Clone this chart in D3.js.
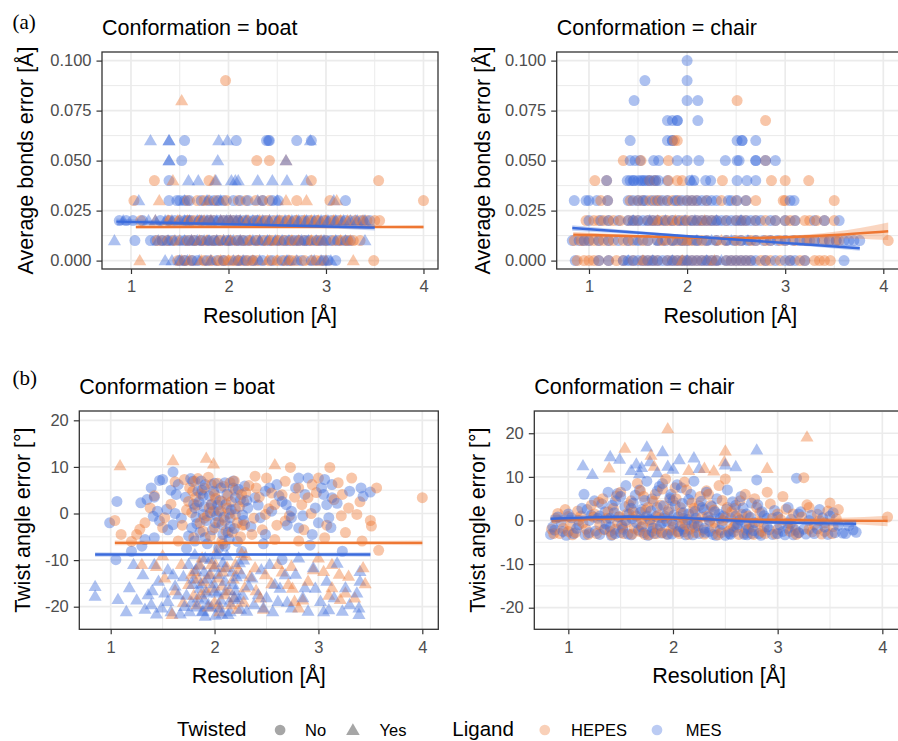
<!DOCTYPE html>
<html>
<head>
<meta charset="utf-8">
<script src="https://cdn.jsdelivr.net/npm/d3@7"></script>
<style>body{margin:0;background:#fff}</style>
</head>
<body>
<svg id="chart" width="898" height="741"></svg>
<script>
// ---- data: bonds error (rounded to 0.01), rows of [level, [resolution...]] ----
const bondsBoatMesNo = [
  [0.06, [1.55, 2.08, 2.39, 2.41, 2.42, 2.7, 2.85]],
  [0.05, [1.52]],
  [0.04, [1.39]],
  [0.03, [1.39, 1.47, 1.5, 1.6, 1.72, 1.85, 1.9, 2.12, 2.2, 2.51, 3.2, 1.55, 1.8, 1.95, 2.05, 2.35, 2.45]],
  [0.02, [0.88, 0.95, 1.02, 1.3, 1.45, 1.55, 1.62, 1.7, 1.8, 1.9, 1.95, 2.05, 2.15, 2.2, 2.3, 2.45, 2.6, 2.75, 2.9, 3.05, 3.2, 3.3, 3.45]],
  [0.02, [1.12, 1.38, 1.58, 1.75, 1.85, 2.0, 2.1, 2.25, 2.38, 2.52, 2.68, 2.82, 2.98, 3.12, 3.38]],
  [0.01, [1.04, 1.2, 1.32, 1.42, 1.5, 1.6, 1.72, 1.85, 1.98, 2.1, 2.2, 2.35, 2.5, 2.62, 2.72, 2.82, 2.95, 3.05, 3.2]],
  [0.01, [1.25, 1.37, 1.55, 1.65, 1.8, 1.9, 2.02, 2.15, 2.28, 2.42, 2.57, 2.68, 2.78, 2.9, 3.0, 3.12, 3.25]],
  [0.00, [1.5, 1.63, 1.78, 1.95, 2.18, 2.45, 2.55, 2.75, 3.02, 3.1, 1.55, 1.68, 1.88, 2.1, 2.25, 2.35, 2.62, 2.85, 2.98]]
];
const bondsBoatMesYes = [
  [0.06, [1.2, 1.39, 1.39, 1.9, 1.99, 2.84]],
  [0.05, [1.39, 1.39, 1.89, 2.59]],
  [0.04, [1.59, 1.69, 1.87, 2.03, 2.07, 2.1, 2.3, 2.45, 2.6, 2.8]],
  [0.03, [1.08, 1.55, 1.78, 1.92, 2.3, 2.5, 3.08]],
  [0.02, [0.92, 1.18, 1.35, 1.42, 1.5, 1.6, 1.68, 1.78, 1.88, 1.98, 2.08, 2.18, 2.25, 2.35, 2.5, 2.65, 2.8, 2.95, 3.1, 3.25, 3.4]],
  [0.02, [1.25, 1.55, 1.72, 1.82, 1.92, 2.02, 2.12, 2.3, 2.42, 2.58, 2.72, 2.88, 3.02, 3.18, 3.32]],
  [0.01, [0.83, 1.28, 1.45, 1.55, 1.68, 1.8, 1.95, 2.05, 2.25, 2.4, 2.55, 2.75, 2.9, 3.1, 3.4]],
  [0.01, [1.38, 1.62, 1.75, 1.88, 2.0, 2.12, 2.32, 2.48, 2.62, 2.82, 2.98, 3.2]],
  [0.00, [1.35, 1.42, 1.58, 2.05, 2.6, 2.88, 3.05, 1.5, 1.7, 1.82, 2.15, 2.32, 2.7, 2.95]]
];
const bondsBoatHepesNo = [
  [0.09, [1.97]],
  [0.05, [2.29, 2.42]],
  [0.04, [1.24, 1.8, 2.85, 3.54]],
  [0.03, [1.03, 1.58, 1.68, 1.98, 2.1, 2.42, 2.7, 3.04, 4.0, 1.75, 1.88, 2.18, 2.28, 2.35]],
  [0.02, [1.1, 1.4, 1.65, 1.85, 2.0, 2.1, 2.28, 2.4, 2.55, 2.7, 2.85, 3.0, 3.15, 3.35, 3.55]],
  [0.02, [1.5, 1.6, 1.72, 1.8, 1.95, 2.05, 2.18, 2.35, 2.48, 2.62, 2.78, 2.92, 3.08, 3.25, 3.42, 3.5]],
  [0.01, [1.27, 1.38, 1.65, 1.78, 1.92, 2.15, 2.3, 2.45, 2.58, 2.78, 3.0, 3.15, 3.28]],
  [0.01, [1.32, 1.45, 1.58, 1.72, 1.85, 2.0, 2.08, 2.22, 2.38, 2.52, 2.65, 2.72, 2.85, 2.92, 3.08, 3.22, 3.35]],
  [0.00, [1.48, 1.55, 1.82, 1.9, 2.0, 2.1, 2.2, 2.3, 2.5, 2.7, 2.95, 3.49, 1.62, 1.75, 1.95, 2.05, 2.15, 2.25, 2.42, 2.58, 2.65, 2.78, 2.9]]
];
const bondsBoatHepesYes = [
  [0.08, [1.52]],
  [0.05, [2.59]],
  [0.04, [1.43, 1.86]],
  [0.03, [1.29, 1.8, 2.59, 2.8, 3.11]],
  [0.02, [1.25, 1.48, 1.75, 1.92, 2.12, 2.32, 2.52, 2.62, 2.78, 2.92, 3.08, 3.22, 3.38]],
  [0.02, [1.38, 1.58, 1.7, 1.82, 2.02, 2.2, 2.42, 2.7, 2.85, 3.0, 3.15, 3.3]],
  [0.01, [1.5, 1.7, 1.88, 2.02, 2.22, 2.42, 2.65, 2.85, 3.25, 1.62, 1.78, 1.95, 2.12, 2.32, 2.5, 2.72, 2.95, 3.15]],
  [0.00, [1.09, 1.6, 1.72, 2.0, 2.25, 2.4, 2.85, 3.28, 1.52, 1.82, 1.92, 2.1, 2.5, 2.62, 3.0]]
];

const bondsChairMesNo = [
  [0.10, [2.0]],
  [0.09, [1.57, 2.0]],
  [0.08, [1.46, 2.0, 2.11]],
  [0.07, [1.8, 1.85, 1.9, 1.9, 2.11]],
  [0.06, [1.42, 1.8, 1.85, 1.85, 2.51, 2.56, 2.56, 2.7]],
  [0.05, [1.42, 1.47, 1.52, 1.66, 1.71, 1.9, 2.0, 2.12, 2.39, 2.51, 2.53, 2.7, 2.7, 2.8, 2.9]],
  [0.04, [1.18, 1.39, 1.42, 1.46, 1.5, 1.53, 1.57, 1.62, 1.66, 1.71, 1.8, 2.03, 2.07, 2.19, 2.24, 2.51, 2.61, 2.7, 1.45, 1.55, 1.6, 1.68]],
  [0.03, [0.85, 0.97, 1.0, 1.08, 1.19, 1.4, 1.45, 1.5, 1.58, 1.7, 1.75, 1.88, 1.95, 2.05, 2.2, 2.3, 2.42, 2.51, 2.6, 3.05, 3.09]],
  [0.03, [1.55, 1.65, 1.8, 1.9, 2.0, 2.1, 2.15, 2.25, 2.45]],
  [0.02, [1.2, 1.4, 1.45, 1.55, 1.6, 1.7, 1.85, 1.98, 2.05, 2.15, 2.25, 2.35, 2.45, 2.55, 2.65, 2.75, 2.9, 3.3]],
  [0.02, [1.0, 1.12, 1.3, 1.5, 1.65, 1.78, 1.92, 2.1, 2.2, 2.3, 2.4, 2.5, 2.6, 2.7, 2.85, 3.0, 3.1, 3.4, 3.55]],
  [0.01, [0.83, 0.9, 0.95, 1.1, 1.3, 1.5, 1.7, 1.85, 2.0, 2.2, 2.4, 2.55, 2.7, 2.85, 3.0, 3.15, 3.3, 3.45, 3.6, 3.7, 3.76]],
  [0.01, [1.0, 1.2, 1.4, 1.6, 1.78, 1.95, 2.1, 2.3, 2.48, 2.62, 2.78, 2.92, 3.08, 3.22, 3.38, 3.52, 3.65]],
  [0.00, [0.86, 1.1, 1.35, 1.4, 1.5, 1.6, 1.7, 1.75, 1.95, 2.0, 2.15, 2.3, 2.45, 2.55, 2.6, 2.7, 2.8, 3.0, 3.1, 3.6]],
  [0.00, [1.2, 1.45, 1.55, 1.65, 1.8, 1.85, 1.9, 2.05, 2.1, 2.2, 2.25, 2.4, 2.5, 2.65, 2.9, 3.05, 3.2]]
];
const bondsChairMesYes = [
  [0.04, [2.05]],
  [0.02, [1.45, 1.62, 1.78, 1.98, 2.08, 2.3, 2.55]],
  [0.01, [1.5, 1.72, 1.9, 2.1, 2.25, 2.45, 2.62]],
  [0.00, [1.4, 1.65, 1.85, 2.0, 2.2, 2.35]]
];
const bondsChairHepesNo = [
  [0.08, [2.51]],
  [0.07, [2.8]],
  [0.06, [1.87, 1.9]],
  [0.05, [1.35, 1.53, 1.81, 2.8]],
  [0.04, [1.06, 1.18, 1.62, 1.68, 1.81, 1.9, 1.95, 2.36, 2.86, 3.0, 3.24]],
  [0.03, [1.12, 1.19, 1.42, 1.55, 1.62, 1.8, 1.92, 2.0, 2.1, 2.6, 2.7, 2.98, 3.0, 3.5, 1.5, 1.68, 1.72, 1.85, 2.05, 2.2, 2.35, 2.5]],
  [0.02, [0.97, 1.1, 1.15, 1.25, 1.32, 1.5, 1.65, 1.75, 1.8, 1.9, 1.95, 2.1, 2.2, 2.3, 2.5, 2.6, 2.8, 3.0, 3.05, 3.2, 3.32, 3.4, 3.5]],
  [0.02, [1.05, 1.2, 1.4, 1.45, 1.6, 1.7, 1.85, 2.0, 2.05, 2.15, 2.25, 2.4, 2.55, 2.7, 2.9, 3.1, 3.25]],
  [0.01, [0.85, 0.92, 1.0, 1.05, 1.15, 1.2, 1.35, 1.45, 1.6, 1.75, 1.9, 2.05, 2.1, 2.3, 2.5, 2.65, 2.8, 2.95, 3.1, 3.25, 3.4, 3.52, 3.55, 4.05]],
  [0.01, [0.95, 1.1, 1.25, 1.4, 1.55, 1.7, 1.85, 1.95, 2.0, 2.15, 2.2, 2.4, 2.55, 2.7, 2.85, 3.0, 3.2, 3.3, 3.45]],
  [0.00, [0.95, 1.0, 1.05, 1.2, 1.28, 1.45, 1.65, 1.8, 1.9, 2.05, 2.1, 2.25, 2.4, 2.5, 2.65, 2.85, 2.95, 3.2, 3.3, 3.4, 3.46]],
  [0.00, [0.88, 1.1, 1.35, 1.55, 1.6, 1.7, 1.85, 1.95, 2.0, 2.15, 2.2, 2.3, 2.45, 2.55, 2.6, 2.75, 2.8, 3.05, 3.15, 3.35]]
];
const bondsChairHepesYes = [
  [0.02, [1.7, 1.88, 2.18]],
  [0.01, [1.8, 2.0, 2.35]],
  [0.00, [1.55, 1.95, 2.28]]
];

// ---- data: twist angle error, [resolution, error] ----
const twistBoatMesNo = [
  [0.99,-2.0],[1.06,2.6],[1.29,2.3],[1.39,5.5],[1.47,7.1],[1.5,7.3],[1.6,8.9],[1.42,3.5],[1.41,-0.6],[1.47,-1.6],
  [1.6,-2.4],[1.54,0.9],[1.63,4.1],[1.65,6.2],[1.79,6.9],[1.84,4.8],[1.91,6.2],[1.81,1.2],[1.89,-0.2],[1.78,-3.1],
  [1.81,-5.9],[1.97,1.9],[2.04,0.5],[2.07,-2.4],[2.15,-0.9],[2.18,5.5],[2.1,6.6],[2.29,5.9],[2.32,1.2],[2.39,3.4],
  [2.44,-0.9],[2.49,4.8],[2.53,5.5],[2.6,6.2],[2.65,2.6],[2.69,1.9],[2.74,-0.9],[2.81,7.6],[2.9,7.6],[2.87,4.1],
  [2.74,0.5],[2.81,-3.1],[2.97,1.2],[3.0,-2.0],[3.06,7.3],[3.05,4.1],[3.08,1.9],[3.1,-0.9],[3.13,6.2],[3.13,3.4],
  [3.41,5.5],[3.5,4.6],[3.43,3.7],[1.05,-9.9],[1.2,-8.1],[1.33,-5.6],[1.42,-5.2],[2.26,-8.1],[2.65,-9.9],[3.23,-8.1],
  [1.91,-5.2],[2.04,-7.4],[2.13,-4.1],[2.49,-4.5],[2.94,-4.5],[2.2,3.4],
  [1.85,2.5],[1.88,5.0],[1.92,-1.5],[1.95,3.8],[1.98,-3.5],[2.0,6.5],[2.02,-0.5],[2.05,2.8],[2.08,-4.5],[2.12,4.2],
  [2.15,-2.8],[2.2,1.0],[2.22,-6.0],[2.25,3.0],[1.82,-0.8],[1.86,-4.0],[1.9,1.5],[2.1,-7.0],[2.18,7.0],[2.28,-1.5],
  [1.35,3.0],[1.45,0.5],[1.55,-3.5],[1.58,5.0],[1.68,-1.0],[1.72,3.5],[1.75,-4.8],[1.77,7.5],[1.8,2.0],[1.83,-2.2],
  [1.87,7.0],[1.89,3.8],[1.93,-6.5],[1.96,0.2],[1.99,4.8],[2.01,-2.0],[2.03,1.8],[2.06,5.5],[2.09,-0.8],[2.11,2.0],
  [2.14,-5.5],[2.16,0.8],[2.19,-3.2],[2.23,5.2],[2.27,-0.3],[2.31,2.8],[2.35,-2.8],[2.42,1.8],[2.47,-6.5],[2.55,0.5],
  [2.62,3.8],[2.7,-2.5],[2.78,5.5],[2.85,-0.5],[2.92,-6.8],[3.03,5.5],[3.12,-3.0],[3.18,2.2],[3.3,4.8],[1.3,-7.0],
  [1.62,0.0],[1.73,-7.5]
];
const twistBoatMesYes = [
  [0.85,-15.6],[0.85,-17.7],[1.07,-18.4],[1.18,-15.9],[1.22,-10.9],[1.31,-13.1],[1.36,-17.4],[1.39,-19.5],[1.46,-14.5],[1.49,-20.2],
  [1.55,-18.8],[1.6,-13.1],[1.65,-17.4],[1.71,-19.9],[1.75,-10.9],[1.79,-15.2],[1.84,-18.1],[1.89,-20.9],[1.91,-9.5],[1.95,-13.1],
  [2.0,-16.6],[2.05,-20.2],[2.1,-11.6],[2.13,-21.6],[2.18,-15.2],[2.23,-18.4],[2.28,-9.9],[2.31,-20.9],[2.36,-13.8],[2.42,-17.4],
  [2.47,-20.2],[2.53,-10.9],[2.58,-15.2],[2.61,-18.8],[2.68,-13.1],[2.74,-20.2],[2.81,-9.5],[2.87,-15.9],[2.9,-20.9],[2.95,-11.6],
  [3.02,-18.8],[3.08,-14.5],[3.1,-20.6],[3.18,-10.6],[3.23,-20.9],[3.26,-15.9],[3.4,-12.4],[3.4,-14.5],[3.39,-20.2],[3.39,-21.6],
  [1.91,-22.0],[1.42,-10.9],[1.81,-8.8],[2.02,-8.8],
  [1.82,-12.0],[1.86,-16.0],[1.9,-18.5],[1.93,-14.0],[1.97,-20.0],[2.0,-11.5],[2.03,-17.0],[2.07,-21.5],[2.1,-14.5],[2.14,-19.0],
  [2.17,-12.5],[2.2,-16.5],[2.25,-20.5],[1.78,-19.0],[1.88,-21.0],[2.12,-9.0],[2.26,-13.0],
  [1.25,-18.5],[1.33,-20.5],[1.4,-16.5],[1.44,-21.5],[1.52,-17.0],[1.58,-21.0],[1.62,-15.5],[1.67,-21.5],[1.7,-13.5],[1.73,-17.5],
  [1.76,-21.0],[1.8,-14.0],[1.83,-20.0],[1.85,-11.0],[1.87,-15.0],[1.9,-12.5],[1.92,-17.0],[1.94,-19.5],[1.96,-9.8],[1.99,-15.0],
  [2.01,-21.8],[2.04,-13.0],[2.06,-18.5],[2.08,-10.5],[2.11,-16.5],[2.15,-21.0],[2.19,-18.0],[2.21,-13.5],[2.24,-10.5],[2.27,-17.5],
  [2.33,-15.5],[2.38,-19.5],[2.45,-12.0],[2.5,-18.0],[2.56,-21.0],[2.63,-16.0],[2.7,-19.0],[2.78,-13.0],[2.85,-18.0],[2.97,-16.0],
  [3.05,-21.0],[3.15,-18.0],[3.3,-19.5],[3.37,-17.0],[1.15,-21.0],[1.55,-12.0]
];
const twistBoatHepesNo = [
  [1.04,-1.5],[1.1,-4.5],[1.25,-4.5],[1.28,-3.4],[1.38,1.2],[1.71,7.3],[1.81,6.9],[1.79,4.8],[1.75,2.6],[1.97,6.2],
  [2.0,4.1],[1.95,1.2],[2.07,2.6],[2.15,6.6],[2.12,1.2],[2.2,-0.2],[2.29,-2.4],[2.39,8.0],[2.5,7.6],[2.4,5.5],
  [2.55,4.4],[2.58,1.9],[2.68,6.9],[2.73,9.9],[2.81,5.5],[2.84,1.9],[2.94,6.2],[2.9,3.4],[3.0,7.6],[3.11,9.9],
  [3.19,6.6],[3.23,4.1],[3.32,7.6],[3.29,1.2],[3.37,-0.2],[3.56,5.5],[4.0,3.4],[3.5,-1.5],[3.51,-2.7],[3.42,-5.9],
  [3.58,-7.9],[3.26,-4.1],[3.06,-5.2],[2.81,-5.9],[2.58,-5.6],[2.36,-4.5],[2.07,-5.9],[1.89,-3.8],[1.65,-5.9],[1.52,-0.9],
  [2.49,-0.2],[2.68,-1.6],[2.26,4.1],
  [1.82,3.5],[1.86,-2.0],[1.9,5.5],[1.93,-0.5],[1.97,2.0],[2.0,-3.0],[2.03,6.5],[2.06,0.5],[2.1,-1.5],[2.13,3.8],
  [2.17,-4.0],[2.2,5.0],[2.24,1.5],[2.27,-2.5],[1.78,0.2],[1.84,7.5],[2.08,-6.5],[2.3,4.5],
  [1.42,3.8],[1.5,-3.0],[1.58,2.0],[1.62,6.8],[1.69,-2.5],[1.73,0.8],[1.76,5.5],[1.8,-5.2],[1.83,1.8],[1.87,4.2],
  [1.9,-1.0],[1.94,7.8],[1.96,-4.8],[1.99,0.5],[2.01,3.2],[2.04,-1.8],[2.09,5.8],[2.11,-3.8],[2.14,0.0],[2.16,2.5],
  [2.19,7.0],[2.22,-2.0],[2.25,-5.0],[2.28,2.5],[2.33,6.0],[2.38,-1.0],[2.43,3.5],[2.46,-3.5],[2.52,1.0],[2.6,-2.5],
  [2.65,4.0],[2.72,-0.5],[2.77,3.5],[2.86,-3.5],[2.93,0.0],[2.98,4.5],[3.08,-2.5],[3.15,3.0],[3.22,-0.5],[3.4,2.5],
  [1.2,-6.0],[1.33,-2.0]
];
const twistBoatHepesYes = [
  [1.09,10.3],[1.6,11.4],[1.92,11.9],[1.99,10.7],[2.58,10.5],[1.3,-10.9],[1.44,-11.3],[1.52,-13.8],[1.68,-10.9],[1.75,-15.2],
  [1.81,-12.4],[1.87,-17.4],[1.97,-10.9],[2.04,-13.8],[2.1,-17.4],[2.16,-19.5],[2.2,-10.9],[2.29,-15.9],[2.39,-11.6],[2.44,-18.1],
  [2.49,-13.1],[2.61,-10.9],[2.71,-15.2],[2.77,-18.8],[2.81,-20.2],[2.9,-14.5],[3.0,-9.5],[3.05,-12.4],[3.13,-15.9],[3.21,-18.4],
  [3.26,-17.0],[3.35,-18.1],[3.43,-11.6],[3.29,-13.4],[1.59,-21.6],[2.04,-19.5],[3.13,-10.9],[2.74,-11.3],
  [1.84,-14.0],[1.88,-9.5],[1.92,-16.5],[1.96,-13.0],[2.0,-19.0],[2.02,-8.0],[2.07,-15.5],[2.12,-11.5],[2.18,-14.0],[2.22,-20.5],
  [2.26,-8.5],[1.8,-17.5],
  [1.62,-16.5],[1.7,-19.0],[1.78,-13.0],[1.83,-19.5],[1.86,-11.0],[1.9,-14.5],[1.94,-20.0],[1.98,-16.0],[2.01,-11.0],[2.05,-21.0],
  [2.08,-12.5],[2.14,-16.5],[2.19,-18.0],[2.23,-12.0],[2.28,-19.0],[2.34,-13.5],[2.4,-16.5],[2.47,-20.5],[2.55,-15.0],[2.65,-12.5],
  [2.75,-16.0],[2.85,-18.5],[2.95,-12.0],[3.1,-17.5],[3.2,-13.0],[3.45,-15.0],[1.5,-9.0],[2.3,-9.0]
];

const twistChairMesNo = [
  [0.83,-3.2],[0.85,-1.5],[0.9,0.8],[0.95,-2.5],[1.0,1.5],[1.05,-3.0],[1.1,-1.0],[1.15,6.0],[1.18,2.5],[1.2,-2.8],
  [1.25,4.5],[1.28,0.5],[1.3,-3.2],[1.35,2.0],[1.38,6.5],[1.4,-1.5],[1.42,3.5],[1.45,-3.0],[1.48,0.8],[1.5,5.5],
  [1.52,-2.0],[1.55,8.0],[1.58,1.5],[1.6,-3.3],[1.62,4.0],[1.65,-0.5],[1.68,7.0],[1.7,2.5],[1.72,-2.8],[1.75,9.0],
  [1.78,0.2],[1.8,5.0],[1.82,-3.0],[1.85,3.0],[1.88,-1.2],[1.9,8.5],[1.92,1.0],[1.95,-3.2],[1.98,6.0],[2.0,-0.8],
  [2.02,3.5],[2.05,-2.5],[2.08,7.5],[2.1,1.8],[2.12,-3.3],[2.15,4.8],[2.18,-1.0],[2.2,9.0],[2.22,0.5],[2.25,-3.0],
  [2.28,3.0],[2.3,-1.8],[2.32,6.5],[2.35,0.0],[2.38,-3.2],[2.4,2.0],[2.42,5.0],[2.45,-2.2],[2.48,1.0],[2.5,-3.4],
  [2.52,7.0],[2.55,0.5],[2.58,-2.6],[2.6,3.5],[2.62,-1.0],[2.65,5.5],[2.68,-3.2],[2.7,1.5],[2.72,-2.0],[2.75,4.0],
  [2.78,-0.5],[2.8,9.3],[2.82,-3.0],[2.85,2.0],[2.9,-1.5],[2.95,-3.2],[3.0,0.8],[3.05,-2.5],[3.1,3.0],[3.12,-0.8],
  [3.15,-3.3],[3.18,9.7],[3.2,1.5],[3.25,-2.0],[3.3,0.0],[3.35,-3.0],[3.4,2.5],[3.45,-1.5],[3.5,1.0],[3.55,-2.8],
  [3.62,-2.9],[3.68,-1.2],[3.75,-2.7],
  [1.5,-2.8],[1.55,0.0],[1.6,2.8],[1.7,-1.5],[1.75,1.0],[1.8,-2.5],[1.85,6.8],[1.9,-0.5],[1.95,2.0],[2.0,4.5],
  [2.05,0.8],[2.1,-2.0],[2.15,1.5],[2.2,-0.8],[2.3,2.5],[2.35,-2.5],[2.45,0.5],[2.55,-3.2],[2.6,1.0],[2.7,-1.0],
  [2.75,-3.0],[2.9,0.5],[3.0,-3.0],[3.1,-1.8],[3.2,-2.8],[1.3,1.0],[1.35,-2.0],[1.4,0.5],[1.45,4.5],[1.2,0.0],
  [0.87,-2.2],[0.93,-0.3],[0.98,-3.4],[1.03,0.6],[1.08,-1.8],[1.13,2.8],[1.16,-3.3],[1.22,1.2],[1.26,-2.4],[1.32,3.8],
  [1.36,-0.8],[1.41,-3.4],[1.44,1.8],[1.47,6.2],[1.51,-1.1],[1.54,3.2],[1.57,-3.1],[1.61,0.4],[1.64,5.8],[1.67,-2.2],
  [1.69,1.9],[1.73,4.6],[1.76,-3.4],[1.79,2.2],[1.81,-1.7],[1.84,0.9],[1.87,7.8],[1.89,-2.9],[1.91,3.4],[1.94,-0.2],
  [1.97,5.2],[1.99,-3.1],[2.01,1.2],[2.04,8.2],[2.07,-1.4],[2.09,3.9],[2.11,-2.6],[2.14,0.2],[2.17,6.0],[2.19,-3.3],
  [2.21,2.1],[2.24,-1.2],[2.27,4.4],[2.31,-2.7],[2.34,0.8],[2.37,3.2],[2.41,-3.4],[2.44,1.4],[2.47,-0.9],[2.51,2.6],
  [2.54,-3.0],[2.57,4.3],[2.61,-1.6],[2.64,0.1],[2.67,2.9],[2.71,-3.3],[2.74,0.7],[2.77,-2.3],[2.81,3.6],[2.84,-3.4],
  [2.87,1.1],[2.92,-2.1],[2.97,2.3],[3.02,-1.0],[3.07,-3.3],[3.13,0.3],[3.17,-2.2],[3.22,2.0],[3.27,-3.1],[3.32,1.2],
  [3.38,-1.9],[3.43,0.6],[3.48,-3.2],[3.53,1.8],[3.58,-1.1],[3.65,-3.0],[3.72,-2.2]
];
const twistChairMesYes = [
  [1.14,12.6],[1.23,10.6],[1.4,14.7],[1.49,14.1],[1.6,11.5],[1.65,13.0],[1.68,10.8],[1.75,16.9],[1.7,12.2],[1.9,15.8],
  [1.85,11.0],[2.06,14.0],[2.2,14.4],[2.25,12.0],[2.6,12.4],[2.8,16.2],[2.5,12.8],[1.78,13.5],[2.0,11.8],[1.95,12.5]
];
const twistChairHepesNo = [
  [0.84,-2.0],[0.88,0.5],[0.92,-3.0],[0.97,2.5],[1.02,-1.2],[1.07,-2.8],[1.12,1.0],[1.17,-2.0],[1.22,3.5],[1.27,-3.0],
  [1.3,-1.0],[1.33,5.0],[1.37,0.5],[1.4,-2.5],[1.43,2.8],[1.47,-0.5],[1.5,6.5],[1.53,-3.0],[1.56,1.5],[1.6,4.5],
  [1.63,-1.8],[1.66,8.5],[1.7,0.2],[1.73,-3.2],[1.76,3.0],[1.8,-1.0],[1.83,6.0],[1.86,1.2],[1.9,-2.8],[1.93,9.5],
  [1.96,2.5],[2.0,-1.5],[2.03,5.0],[2.06,-3.0],[2.1,0.5],[2.13,7.0],[2.16,-2.0],[2.2,2.8],[2.23,-0.5],[2.26,5.5],
  [2.3,-3.1],[2.33,1.0],[2.36,3.5],[2.4,-1.8],[2.44,8.0],[2.48,0.0],[2.5,9.5],[2.53,-2.5],[2.56,2.0],[2.6,-0.8],
  [2.64,4.5],[2.68,-2.9],[2.72,1.0],[2.76,-1.5],[2.8,3.0],[2.85,-2.5],[2.9,6.5],[2.95,0.5],[3.0,-2.0],[3.05,5.5],
  [3.1,-0.5],[3.15,1.5],[3.2,-2.8],[3.25,9.8],[3.3,3.0],[3.35,-1.0],[3.4,0.0],[3.45,-2.5],[3.5,4.0],[3.52,-3.0],
  [3.58,2.5],[4.05,0.8],
  [1.45,-2.0],[1.55,-0.5],[1.62,2.0],[1.68,-2.5],[1.72,5.5],[1.78,-0.2],[1.84,-3.0],[1.88,3.5],[1.92,0.5],[1.98,-2.2],
  [2.02,7.5],[2.08,1.8],[2.12,-1.0],[2.18,4.0],[2.22,-2.8],[2.28,0.8],[2.34,6.0],[2.4,-0.5],[2.46,-2.8],[2.52,3.0],
  [2.58,-1.5],[2.62,0.5],[2.7,-2.2],[2.78,5.0],[2.82,-0.3],[2.88,-3.0],[3.0,1.5],[3.12,-2.5],[3.3,-2.0],[3.45,-0.5],
  [1.0,-2.5],[1.1,0.0],[1.25,1.5],
  [0.86,-3.0],[0.9,1.6],[0.95,-1.8],[1.0,0.9],[1.04,-3.3],[1.09,2.2],[1.14,-0.6],[1.19,-3.2],[1.24,0.8],[1.29,4.2],
  [1.34,-2.1],[1.38,2.0],[1.42,-3.3],[1.46,5.6],[1.49,0.9],[1.52,-1.6],[1.58,3.6],[1.61,-3.1],[1.65,1.0],[1.69,6.8],
  [1.71,-1.2],[1.74,2.4],[1.77,-3.3],[1.81,4.4],[1.85,-1.9],[1.87,0.6],[1.9,7.2],[1.94,-3.1],[1.97,4.8],[1.99,0.0],
  [2.04,-2.6],[2.07,3.0],[2.09,-0.6],[2.11,8.8],[2.15,-3.2],[2.19,1.6],[2.21,-1.6],[2.25,3.4],[2.29,-2.2],[2.32,6.8],
  [2.35,-0.2],[2.39,2.4],[2.43,-3.3],[2.47,4.6],[2.5,0.7],[2.55,-2.0],[2.59,2.8],[2.63,-3.2],[2.66,1.4],[2.69,6.0],
  [2.73,-0.8],[2.77,-3.2],[2.83,1.8],[2.87,-1.6],[2.93,3.8],[2.98,-3.1],[3.03,0.2],[3.08,2.6],[3.14,-1.4],[3.18,-3.2],
  [3.23,0.8],[3.28,3.6],[3.33,-2.6],[3.38,1.4],[3.42,-3.1],[3.48,2.2],[3.53,-1.4],[3.56,0.4]
];
const twistChairHepesYes = [
  [1.54,16.6],[1.39,12.1],[1.79,15.0],[1.95,21.1],[2.5,16.0],[2.49,13.5],[2.39,11.4],[2.9,12.0],[3.28,19.2],[2.3,12.0],
  [1.82,12.5],[2.15,11.5]
];

// ---- fitted smooths: [resolution, fit, lower, upper] ----
const fitBondsBoatHepes = [[1.05,0.0168,0.0161,0.0175],[2.5,0.0168,0.0165,0.0171],[4.0,0.0168,0.0160,0.0176]];
const fitBondsBoatMes = [[0.85,0.0195,0.0180,0.0210],[2.2,0.0180,0.0175,0.0185],[3.5,0.0165,0.0150,0.0180]];
const fitBondsChairHepes = [[0.84,0.0130,0.0117,0.0143],[1.5,0.0122,0.0116,0.0128],[2.0,0.0115,0.0111,0.0119],[2.5,0.0112,0.0108,0.0116],[3.0,0.0117,0.0111,0.0123],[3.5,0.0128,0.0112,0.0144],[4.05,0.0147,0.0103,0.0191]];
const fitBondsChairMes = [[0.83,0.0163,0.0149,0.0177],[2.3,0.0112,0.0107,0.0117],[3.76,0.0062,0.0049,0.0075]];
const fitTwistBoatHepes = [[1.04,-6.3,-6.8,-5.8],[2.5,-6.3,-6.6,-6.0],[4.0,-6.3,-6.8,-5.8]];
const fitTwistBoatMes = [[0.85,-8.8,-9.3,-8.3],[2.2,-8.8,-9.1,-8.5],[3.5,-8.8,-9.3,-8.3]];
const fitTwistChairHepes = [[0.84,0.0,-0.7,0.7],[1.2,0.35,-0.1,0.8],[1.6,0.5,0.1,0.9],[2.0,0.45,0.1,0.8],[2.4,0.25,-0.1,0.6],[2.8,0.15,-0.25,0.55],[3.2,0.05,-0.4,0.5],[3.6,-0.05,-0.7,0.6],[4.05,-0.1,-1.3,1.1]];
const fitTwistChairMes = [[0.83,0.4,-0.4,1.2],[1.2,0.7,0.2,1.2],[1.6,0.85,0.45,1.25],[2.0,0.7,0.3,1.1],[2.4,0.2,-0.2,0.6],[2.8,-0.3,-0.7,0.1],[3.2,-0.55,-1.0,-0.1],[3.75,-0.75,-1.5,0.0]];

const xTicks = [1, 2, 3, 4];
const bondsTicks = [0, 0.025, 0.05, 0.075, 0.1];
const twistTicks = [-20, -10, 0, 10, 20];

// ---- drawing ----
const HEPES = '#EE7733', MES = '#3B6BDC';
const PT_ALPHA = 0.42;
const SANS = '"Liberation Sans", Arial, Helvetica, sans-serif';
const svg = d3.select('#chart');
svg.append('rect').attr('width', 898).attr('height', 741).attr('fill', '#fff');

const levels = rows => rows.flatMap(([lv, xs]) => xs.map(v => [v, lv]));

function minorOf(ticks, domain) {
  const step = ticks[1] - ticks[0];
  const ext = [ticks[0] - step, ...ticks, ticks[ticks.length - 1] + step];
  const out = [];
  for (let i = 0; i < ext.length - 1; i++) out.push((ext[i] + ext[i + 1]) / 2);
  return out.filter(v => v >= domain[0] && v <= domain[1]);
}

function drawPanel(p) {
  const x = d3.scaleLinear().domain(p.xDomain).range([p.x0, p.x1]);
  const y = d3.scaleLinear().domain(p.yDomain).range([p.y1, p.y0]);
  const g = svg.append('g');

  g.append('clipPath').attr('id', 'clip-' + p.id).append('rect')
    .attr('x', p.x0).attr('y', p.y0).attr('width', p.x1 - p.x0).attr('height', p.y1 - p.y0);
  const body = g.append('g').attr('clip-path', `url(#clip-${p.id})`);

  // grid
  const grid = (vals, vertical, w) => body.append('g').selectAll('line').data(vals).join('line')
    .attr('x1', d => vertical ? x(d) : p.x0).attr('x2', d => vertical ? x(d) : p.x1)
    .attr('y1', d => vertical ? p.y0 : y(d)).attr('y2', d => vertical ? p.y1 : y(d))
    .attr('stroke', '#EBEBEB').attr('stroke-width', w);
  grid(minorOf(xTicks, p.xDomain), true, 1.0);
  grid(minorOf(p.yTicks, p.yDomain), false, 1.0);
  grid(xTicks.filter(v => v >= p.xDomain[0] && v <= p.xDomain[1]), true, 1.7);
  grid(p.yTicks, false, 1.7);

  // points
  const pts = [
    ...p.hepesNo.map(d => ({ x: d[0], y: d[1], c: HEPES, tw: false })),
    ...p.mesNo.map(d => ({ x: d[0], y: d[1], c: MES, tw: false })),
    ...p.hepesYes.map(d => ({ x: d[0], y: d[1], c: HEPES, tw: true })),
    ...p.mesYes.map(d => ({ x: d[0], y: d[1], c: MES, tw: true }))
  ].sort((a, b) => a.x - b.x);
  const circle = d3.symbol(d3.symbolCircle, 95)();
  const tri = d3.symbol(d3.symbolTriangle, 74)();
  body.append('g').selectAll('path').data(pts).join('path')
    .attr('transform', d => `translate(${x(d.x)},${y(d.y) + (d.tw ? 1 : 0)})`)
    .attr('d', d => d.tw ? tri : circle)
    .attr('fill', d => d.c).attr('fill-opacity', PT_ALPHA);

  // smooths
  const area = d3.area().x(d => x(d[0])).y0(d => y(d[2])).y1(d => y(d[3])).curve(d3.curveMonotoneX);
  const line = d3.line().x(d => x(d[0])).y(d => y(d[1])).curve(d3.curveMonotoneX);
  [[p.fitHepes, HEPES], [p.fitMes, MES]].forEach(([f, c]) => {
    body.append('path').attr('d', area(f)).attr('fill', c).attr('fill-opacity', 0.3);
    body.append('path').attr('d', line(f)).attr('fill', 'none').attr('stroke', c).attr('stroke-width', 2.4);
  });

  // border
  g.append('rect').attr('x', p.x0).attr('y', p.y0).attr('width', p.x1 - p.x0).attr('height', p.y1 - p.y0)
    .attr('fill', 'none').attr('stroke', '#333').attr('stroke-width', 1.3);

  // axes
  const styleAxis = a => {
    a.attr('font-size', null).attr('font-family', null);
    a.select('.domain').remove();
    a.selectAll('line').attr('stroke', '#333').attr('stroke-width', 1.2);
    a.selectAll('text').attr('fill', '#4D4D4D').style('font-size', '16.5px').style('font-family', SANS);
  };
  g.append('g').attr('transform', `translate(0,${p.y1})`)
    .call(d3.axisBottom(x).tickValues(xTicks.filter(v => v <= p.xDomain[1])).tickSize(5).tickPadding(6.5).tickFormat(d3.format('d')))
    .call(styleAxis);
  g.append('g').attr('transform', `translate(${p.x0},0)`)
    .call(d3.axisLeft(y).tickValues(p.yTicks).tickSize(5.5).tickPadding(5).tickFormat(p.yFormat))
    .call(styleAxis);

  // titles
  g.append('text').attr('x', p.x0).attr('y', p.y0 - 17).text(p.strip)
    .style('font-family', SANS).style('font-size', '21.5px').attr('fill', '#000');
  g.append('text').attr('x', (p.x0 + p.x1) / 2).attr('y', p.y1 + 53.5).attr('text-anchor', 'middle')
    .text('Resolution [Å]').style('font-family', SANS).style('font-size', '21.5px');
  g.append('text').attr('transform', `translate(${p.yTitleX},${(p.y0 + p.y1) / 2}) rotate(-90)`)
    .attr('text-anchor', 'middle').text(p.yTitle).style('font-family', SANS).style('font-size', '21.5px');
}

const bondsFmt = d3.format('.3f');
const twistFmt = d => String(d);
const rowA = { y0: 52, y1: 269, yDomain: [-0.0042, 0.1043], yTicks: bondsTicks, yFormat: bondsFmt, yTitle: 'Average bonds error [Å]' };
const rowB = { y0: 411, y1: 629.3, yTicks: twistTicks, yFormat: twistFmt, yTitle: 'Twist angle error [°]' };

drawPanel({ ...rowA, id: 'ab', x0: 102, x1: 438, xDomain: [0.7026, 4.149], yTitleX: 33, strip: 'Conformation = boat',
  hepesNo: levels(bondsBoatHepesNo), mesNo: levels(bondsBoatMesNo), hepesYes: levels(bondsBoatHepesYes), mesYes: levels(bondsBoatMesYes),
  fitHepes: fitBondsBoatHepes, fitMes: fitBondsBoatMes });
drawPanel({ ...rowA, id: 'ac', x0: 556.7, x1: 904, xDomain: [0.671, 4.211], yTitleX: 489.5, strip: 'Conformation = chair',
  hepesNo: levels(bondsChairHepesNo), mesNo: levels(bondsChairMesNo), hepesYes: levels(bondsChairHepesYes), mesYes: levels(bondsChairMesYes),
  fitHepes: fitBondsChairHepes, fitMes: fitBondsChairMes });
drawPanel({ ...rowB, id: 'bb', x0: 79.3, x1: 438.3, xDomain: [0.6977, 4.154], yDomain: [-24.85, 22.0], yTitleX: 29.5, strip: 'Conformation = boat',
  hepesNo: twistBoatHepesNo, mesNo: twistBoatMesNo, hepesYes: twistBoatHepesYes, mesYes: twistBoatMesYes,
  fitHepes: fitTwistBoatHepes, fitMes: fitTwistBoatMes });
drawPanel({ ...rowB, id: 'bc', x0: 534.3, x1: 904, xDomain: [0.675, 4.207], yDomain: [-24.95, 25.1], yTitleX: 485, strip: 'Conformation = chair',
  hepesNo: twistChairHepesNo, mesNo: twistChairMesNo, hepesYes: twistChairHepesYes, mesYes: twistChairMesYes,
  fitHepes: fitTwistChairHepes, fitMes: fitTwistChairMes });

// panel tags
const SERIF = '"Liberation Serif", "Times New Roman", serif';
svg.append('text').attr('x', 12.5).attr('y', 29).text('(a)').style('font-family', SERIF).style('font-size', '21px');
svg.append('text').attr('x', 12.5).attr('y', 385).text('(b)').style('font-family', SERIF).style('font-size', '21px');

// legend
const leg = svg.append('g');
const legText = (x, s, t) => leg.append('text').attr('x', x).attr('y', 736).text(t)
  .style('font-family', SANS).style('font-size', s + 'px').attr('fill', '#000');
legText(177, 20.5, 'Twisted');
legText(305, 16.5, 'No');
legText(379.5, 16.5, 'Yes');
legText(452.3, 20.5, 'Ligand');
legText(571, 16.5, 'HEPES');
legText(685.8, 16.5, 'MES');
const legKeys = [
  { x: 280.1, y: 730, s: d3.symbolCircle, c: '#000' },
  { x: 352.9, y: 731, s: d3.symbolTriangle, c: '#000' },
  { x: 544.8, y: 730, s: d3.symbolCircle, c: HEPES },
  { x: 657, y: 730, s: d3.symbolCircle, c: MES }
];
leg.selectAll('path').data(legKeys).join('path')
  .attr('transform', d => `translate(${d.x},${d.y})`)
  .attr('d', d => d3.symbol(d.s, d.s === d3.symbolCircle ? 90 : 80)())
  .attr('fill', d => d.c).attr('fill-opacity', 0.35);
</script>
</body>
</html>
